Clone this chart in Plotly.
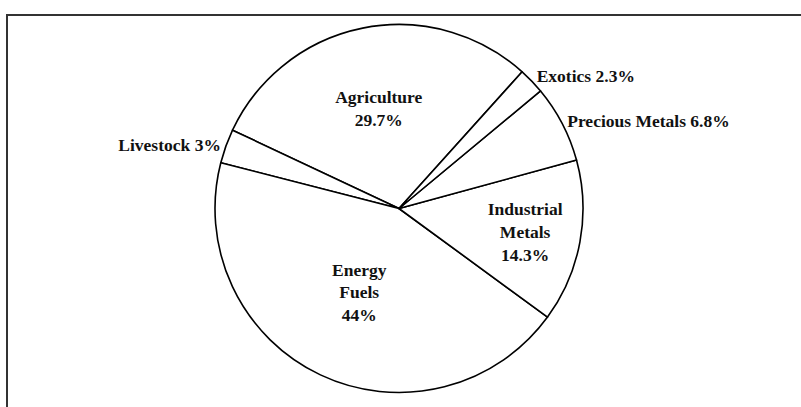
import plotly.graph_objects as go

labels = ["Agriculture", "Livestock", "Energy Fuels", "Industrial Metals", "Precious Metals", "Exotics"]
display = ["Agriculture<br>29.7%", "Livestock 3%", "Energy<br>Fuels<br>44%", "Industrial<br>Metals<br>14.3%", "Precious Metals 6.8%", "Exotics 2.3%"]
values = [29.7, 3.0, 44.0, 14.3, 6.8, 2.3]
positions = ["inside", "outside", "inside", "inside", "outside", "outside"]

W, H = 801, 407
cx, cy, r = 399, 208.5, 184

fig = go.Figure(go.Pie(
    labels=labels,
    values=values,
    text=display,
    textinfo="text",
    textposition=positions,
    insidetextorientation="horizontal",
    sort=False,
    direction="counterclockwise",
    rotation=-64.8,
    marker=dict(colors=["white"] * len(values), line=dict(color="black", width=1.6)),
    textfont=dict(family="Liberation Serif", size=17.5, color="#111111", weight="bold"),
    hoverinfo="skip",
    showlegend=False,
    domain=dict(x=[(cx - r) / W, (cx + r) / W], y=[(H - cy - r) / H, (H - cy + r) / H]),
))

fig.add_shape(type="rect", xref="paper", yref="paper",
              x0=7 / W, x1=1.02, y0=-0.02, y1=1 - 15 / H,
              line=dict(color="#333333", width=2), fillcolor="rgba(0,0,0,0)")

fig.update_layout(
    width=W, height=H,
    margin=dict(l=0, r=0, t=0, b=0),
    paper_bgcolor="white", plot_bgcolor="white",
    font=dict(family="Liberation Serif", size=17.5, color="#111111"),
    uniformtext=dict(minsize=17, mode="show"),
)
fig.write_html("out.html")
